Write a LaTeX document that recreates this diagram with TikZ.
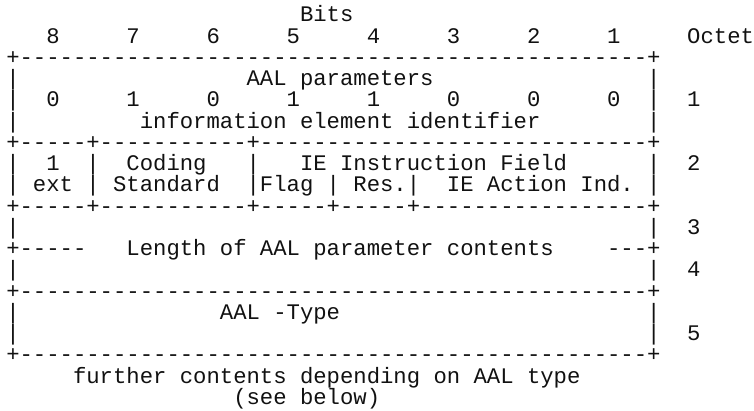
\documentclass[tikz,border=0pt]{standalone}
\usepackage{fontspec}
\usepackage{tikz}
\usetikzlibrary{positioning}
\newfontfamily\asciifont{Liberation Mono}
\definecolor{ink}{HTML}{111111}

\begin{document}
\begin{tikzpicture}[x=13.35pt,y=-21.25pt,
  ascii/.style={anchor=base west,inner sep=0pt,outer sep=0pt,text=ink,
    font=\fontsize{22.25pt}{21.25pt}\selectfont\asciifont}]
  \useasboundingbox (-0.47,-0.0235) rectangle (56,19.27);
  \newcommand{\dashes}[1]{\foreach \k in {1,...,#1}{-}}

  % heading
  \node[ascii] (bits) at (22,1) {Bits};
  \foreach \b [count=\i from 0] in {8,7,6,5,4,3,2,1}
    \node[ascii] (bit\b) at (3+6*\i,2) {\b};
  \node[ascii] (octet) at (51,2) {Octet};

  % frame rows
  \node[ascii] (rule3) at (0,3) {+\dashes{47}+};
  \node[ascii] (rule7) at (0,7) {+\dashes{5}+\dashes{11}+\dashes{29}+};
  \node[ascii] (rule10) at (0,10) {+\dashes{5}+\dashes{11}+\dashes{5}+\dashes{5}+\dashes{17}+};
  \node[ascii] (rule14) at (0,14) {+\dashes{47}+};
  \node[ascii] (rule17) at (0,17) {+\dashes{47}+};
  \foreach \l in {4,5,6,8,9,11,13,15,16}{
    \node[ascii] (lbar\l) at (0,\l) {|};
    \node[ascii] (rbar\l) at (48,\l) {|};
  }
  \foreach \o/\l in {1/5,2/8,3/11,4/13,5/16}
    \node[ascii] (oct\o) at (51,\l) {\o};

  % octet 1
  \node[ascii] (aalpar) at (18,4) {AAL parameters};
  \foreach \v [count=\i from 0] in {0,1,0,1,1,0,0,0}
    \node[ascii] (id\i) at (3+6*\i,5) {\v};
  \node[ascii] (ieid) at (10,6) {information element identifier};

  % octet 2
  \node[ascii] (extbit) at (3,8) {1};
  \node[ascii] (bar8a) at (6,8) {|};
  \node[ascii] (coding) at (9,8) {Coding};
  \node[ascii] (bar8b) at (18,8) {|};
  \node[ascii] (instr) at (22,8) {IE Instruction Field};
  \node[ascii] (ext) at (2,9) {ext};
  \node[ascii] (bar9a) at (6,9) {|};
  \node[ascii] (standard) at (8,9) {Standard};
  \node[ascii] (flag) at (18,9) {|Flag};
  \node[ascii] (bar9b) at (24,9) {|};
  \node[ascii] (res) at (26,9) {Res.|};
  \node[ascii] (action) at (33,9) {IE Action Ind.};

  % octets 3-4
  \node[ascii] (lenl) at (0,12) {+\dashes{5}};
  \node[ascii] (length) at (9,12) {Length of AAL parameter contents};
  \node[ascii] (lenr) at (45,12) {\dashes{3}+};

  % octet 5
  \node[ascii] (aaltype) at (16,15) {AAL -Type};

  % note
  \node[ascii] (further) at (5,18) {further contents depending on AAL type};
  \node[ascii] (below) at (17,19) {(see below)};
\end{tikzpicture}
\end{document}
